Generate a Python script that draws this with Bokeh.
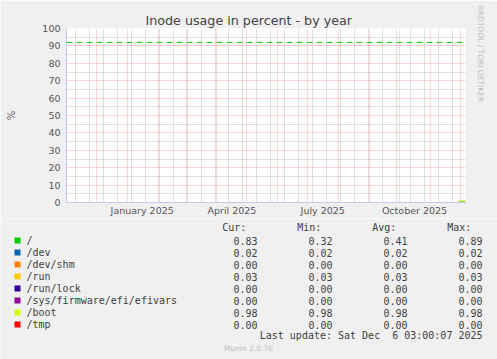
import datetime as dt

from bokeh.plotting import figure
from bokeh.layouts import column
from bokeh.models import (Range1d, FixedTicker, DatetimeTickFormatter, Grid, Span, Title)
from bokeh.core.properties import value
from bokeh.embed import file_html
from bokeh.resources import INLINE

# ---------------- data ----------------
TITLE = "Inode usage in percent - by year"
Y_LABEL = "%"
SIDE_TEXT = "RRDTOOL / TOBI OETIKER"
FOOTER = "Munin 2.0.76"
LAST_UPDATE = "Last update: Sat Dec \u00a06 03:00:07 2025"

END = dt.datetime(2025, 12, 6, 3, 0, 7)
SPAN_DAYS = 400

Y_TICKS = [0, 10, 20, 30, 40, 50, 60, 70, 80, 90, 100]
Y_MINOR = [5, 15, 25, 35, 45, 55, 65, 75, 85, 95]

X_LABELS = ["January 2025", "April 2025", "July 2025", "October 2025"]
X_LABEL_POS = [dt.datetime(2025, 1, 16), dt.datetime(2025, 4, 16),
               dt.datetime(2025, 7, 16), dt.datetime(2025, 10, 16)]

WARNING = 92

names = ["/", "/dev", "/dev/shm", "/run", "/run/lock",
         "/sys/firmware/efi/efivars", "/boot", "/tmp"]
colors = ["#00CC00", "#0066B3", "#FF8000", "#FFCC00", "#330099",
          "#990099", "#CCFF00", "#FF0000"]
cur = [0.83, 0.02, 0.00, 0.03, 0.00, 0.00, 0.98, 0.00]
mins = [0.32, 0.02, 0.00, 0.03, 0.00, 0.00, 0.98, 0.00]
avgs = [0.41, 0.02, 0.00, 0.03, 0.00, 0.00, 0.98, 0.00]
maxs = [0.89, 0.02, 0.00, 0.03, 0.00, 0.00, 0.98, 0.00]

dates = [dt.datetime(2025, 11, 29), dt.datetime(2025, 11, 30), dt.datetime(2025, 12, 1),
         dt.datetime(2025, 12, 2), dt.datetime(2025, 12, 3), dt.datetime(2025, 12, 4),
         dt.datetime(2025, 12, 5), dt.datetime(2025, 12, 6)]
v_root = [0.32, 0.32, 0.33, 0.33, 0.34, 0.35, 0.89, 0.83]
v_dev = [0.02, 0.02, 0.02, 0.02, 0.02, 0.02, 0.02, 0.02]
v_devshm = [0.00, 0.00, 0.00, 0.00, 0.00, 0.00, 0.00, 0.00]
v_run = [0.03, 0.03, 0.03, 0.03, 0.03, 0.03, 0.03, 0.03]
v_runlock = [0.00, 0.00, 0.00, 0.00, 0.00, 0.00, 0.00, 0.00]
v_efivars = [0.00, 0.00, 0.00, 0.00, 0.00, 0.00, 0.00, 0.00]
v_boot = [0.98, 0.98, 0.98, 0.98, 0.98, 0.98, 0.98, 0.98]
v_tmp = [0.00, 0.00, 0.00, 0.00, 0.00, 0.00, 0.00, 0.00]
series = [v_root, v_dev, v_devshm, v_run, v_runlock, v_efivars, v_boot, v_tmp]

# ---------------- styles ----------------
BG = "#F0F0F0"
AXIS_COL = "#C8C8F0"
TICK_COL = "#555555"
SANS = "DejaVu Sans"
MONO = "DejaVu Sans Mono"
TOP_H = 218

start = END - dt.timedelta(days=SPAN_DAYS)

# grid positions
month_starts = []
y, m = start.year, start.month
while True:
    d = dt.datetime(y, m, 1)
    if d > END:
        break
    if d >= start - dt.timedelta(days=1):
        month_starts.append(d)
    m += 1
    if m > 12:
        m = 1
        y += 1
biweek = []
d = dt.datetime(2024, 11, 10)
while d <= END:
    biweek.append(d)
    d += dt.timedelta(days=14)


def ms(t):
    return (t - dt.datetime(1970, 1, 1)).total_seconds() * 1000.0


p = figure(width=497, height=TOP_H, x_axis_type="datetime",
           x_range=Range1d(start, END), y_range=Range1d(0, 100),
           output_backend="svg", toolbar_location=None, title=None,
           min_border_left=66, min_border_right=31, min_border_top=28,
           min_border_bottom=TOP_H - 203)
p.frame_align = False
p.background_fill_color = "white"
p.border_fill_color = BG
p.outline_line_color = None
p.xgrid.visible = False
p.ygrid.visible = False

vgrid = Grid(dimension=0,
             ticker=FixedTicker(ticks=[ms(t) for t in month_starts],
                                minor_ticks=[ms(t) for t in biweek]),
             grid_line_color="#FF0000", grid_line_alpha=0.3, grid_line_dash="1 1",
             minor_grid_line_color="#808080", minor_grid_line_alpha=0.5,
             minor_grid_line_dash="1 1")
hgrid = Grid(dimension=1,
             ticker=FixedTicker(ticks=Y_TICKS, minor_ticks=Y_MINOR),
             grid_line_color="#FF0000", grid_line_alpha=0.35, grid_line_dash="1 1",
             minor_grid_line_color="#808080", minor_grid_line_alpha=0.5,
             minor_grid_line_dash="1 1")
p.add_layout(vgrid)
p.add_layout(hgrid)

p.add_layout(Span(location=WARNING, dimension="width", line_color="#00CC00",
                  line_dash="6 4", line_width=1))

for vals, col in zip(series, colors):
    p.line(x=dates, y=vals, line_color=col, line_width=1)

# axes
p.yaxis.ticker = FixedTicker(ticks=Y_TICKS)
p.xaxis.ticker = FixedTicker(ticks=[ms(t) for t in X_LABEL_POS])
fmt = "%B %Y"
p.xaxis.formatter = DatetimeTickFormatter(
    microseconds=fmt, milliseconds=fmt, seconds=fmt, minsec=fmt, minutes=fmt,
    hourmin=fmt, hours=fmt, days=fmt, months=fmt, years=fmt)
for ax in (p.xaxis, p.yaxis):
    ax.axis_line_color = AXIS_COL
    ax.major_tick_line_color = None
    ax.minor_tick_line_color = None
    ax.major_tick_out = 0
    ax.major_tick_in = 0
    ax.minor_tick_out = 0
    ax.minor_tick_in = 0
    ax.major_label_text_font = SANS
    ax.major_label_text_font_size = "9.5px"
    ax.major_label_text_color = TICK_COL
p.xaxis.major_label_standoff = 2
p.yaxis.major_label_standoff = 6
p.yaxis.axis_label = Y_LABEL
p.yaxis.axis_label_text_font = SANS
p.yaxis.axis_label_text_font_size = "10px"
p.yaxis.axis_label_text_font_style = "normal"
p.yaxis.axis_label_text_color = TICK_COL
p.yaxis.axis_label_standoff = 22

p.add_layout(Title(text=TITLE, align="left", offset=79, standoff=2,
                   text_font=SANS, text_font_size="12.7px", text_font_style="normal",
                   text_color="#444444"), "above")
p.add_layout(Title(text=SIDE_TEXT, align="left", offset=-23, standoff=21,
                   text_font=SANS, text_font_size="7.5px", text_font_style="normal",
                   text_color="#BBBBBB"), "right")

# ---------------- legend area ----------------
q = figure(width=497, height=359 - TOP_H, x_range=Range1d(0, 497),
           y_range=Range1d(359, TOP_H),
           output_backend="svg", toolbar_location=None, title=None, min_border=0,
           x_axis_location=None, y_axis_location=None)
q.frame_align = False
q.background_fill_color = BG
q.border_fill_color = BG
q.outline_line_color = None
q.xgrid.visible = False
q.ygrid.visible = False

rows = [240 + 12 * i for i in range(len(names))]
TXT = "#404040"
q.rect(x=17, y=rows, width=6, height=6, fill_color=colors, line_color=None)
q.text(x=26, y=rows, text=names, text_font=value(MONO), text_font_size=value("10px"),
       text_baseline="middle", text_color=TXT)
headers = ["Cur:", "Min:", "Avg:", "Max:"]
q.text(x=[221.7 + 75 * k for k in range(4)], y=[227.3] * 4, text=headers,
       text_font=value(MONO), text_font_size=value("10px"), text_baseline="middle",
       text_color=TXT)
for k, col in enumerate([cur, mins, avgs, maxs]):
    q.text(x=257 + 75 * k, y=rows, text=["%.2f" % v for v in col], text_font=value(MONO),
           text_font_size=value("10px"), text_baseline="middle", text_align="right",
           text_color=TXT)
q.text(x=[482], y=[335], text=[LAST_UPDATE], text_font=value(MONO),
       text_font_size=value("10px"), text_baseline="middle", text_align="right",
       text_color=TXT)
q.text(x=[248], y=[348], text=[FOOTER], text_font=value(SANS),
       text_font_size=value("7.5px"), text_baseline="middle", text_align="center",
       text_color="#BBBBBB")

layout = column(p, q, spacing=0)
open("out.html", "w").write(file_html(layout, INLINE))
